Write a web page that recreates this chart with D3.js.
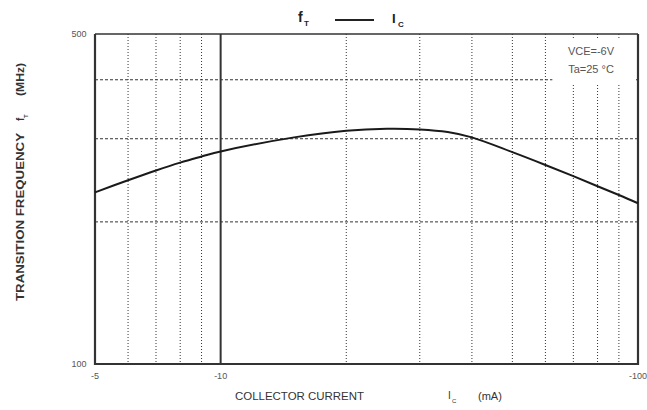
<!DOCTYPE html>
<html>
<head>
<meta charset="utf-8">
<script src="https://cdn.jsdelivr.net/npm/d3@7"></script>
<style>
  body { margin: 0; background: #fff; }
  svg { display: block; font-family: "Liberation Sans", Arial, sans-serif; }
</style>
</head>
<body>
<div id="chart"></div>
<script>
// collector current (mA) and transition frequency (MHz)
var current = [-5, -6, -7, -8, -9, -10, -15, -20, -25, -30, -35, -40, -50, -60, -70, -80, -90, -100]
var freq = [231, 245, 257, 267, 275, 282, 302, 312, 315, 314, 310, 302, 281, 264, 250, 238, 228, 219]

var xGrid = [-6, -7, -8, -9, -20, -30, -40, -50, -60, -70, -80, -90]
var xMajor = [-10]
var xTickLabels = [-5, -10, -100]
var yGrid = [200, 300, 400]
var yTickLabels = [100, 500]
var notes = ["VCE=-6V", "Ta=25 \u00b0C"]

var width = 647, height = 410
var margin = { top: 34, right: 9, bottom: 46, left: 95 }

var svg = d3.select("#chart").append("svg")
  .attr("width", width)
  .attr("height", height)

var x = d3.scaleLog().domain([-5, -100]).range([margin.left, width - margin.right])
var y = d3.scaleLog().domain([100, 500]).range([height - margin.bottom, margin.top])

// grid
svg.append("g").selectAll("line")
  .data(yGrid)
  .enter().append("line")
  .attr("x1", x(-5)).attr("x2", x(-100))
  .attr("y1", d => y(d)).attr("y2", d => y(d))
  .attr("stroke", "#333")
  .attr("stroke-width", 1)
  .attr("stroke-dasharray", "3,2")

svg.append("g").selectAll("line")
  .data(xGrid)
  .enter().append("line")
  .attr("x1", d => x(d)).attr("x2", d => x(d))
  .attr("y1", y(500)).attr("y2", y(100))
  .attr("stroke", "#333")
  .attr("stroke-width", 1)
  .attr("stroke-dasharray", "1,2")

// white box behind the conditions text
svg.append("rect")
  .attr("x", x(-62) + 1)
  .attr("y", y(500) + 4)
  .attr("width", x(-100) - x(-62) - 3)
  .attr("height", y(400) - y(500))
  .attr("fill", "#fff")

svg.append("g").selectAll("line")
  .data(xMajor)
  .enter().append("line")
  .attr("x1", d => x(d)).attr("x2", d => x(d))
  .attr("y1", y(500)).attr("y2", y(100))
  .attr("stroke", "#333")
  .attr("stroke-width", 2)

// frame
svg.append("line")
  .attr("x1", x(-5)).attr("x2", x(-100))
  .attr("y1", y(500)).attr("y2", y(500))
  .attr("stroke", "#333").attr("stroke-width", 1.5)
svg.append("path")
  .attr("d", "M" + x(-5) + "," + y(500) + "V" + y(100) + "H" + x(-100) + "V" + y(500))
  .attr("fill", "none")
  .attr("stroke", "#333")
  .attr("stroke-width", 2.2)

// curve
var line = d3.line()
  .x((d, i) => x(current[i]))
  .y(d => y(d))
  .curve(d3.curveCatmullRom)

svg.append("path")
  .datum(freq)
  .attr("d", line)
  .attr("fill", "none")
  .attr("stroke", "#1a1a1a")
  .attr("stroke-width", 2)

// tick labels
svg.append("g").selectAll("text")
  .data(xTickLabels)
  .enter().append("text")
  .attr("x", d => x(d))
  .attr("y", y(100) + 15)
  .attr("text-anchor", "middle")
  .attr("font-size", 9)
  .attr("fill", "#555")
  .text(d => d)

svg.append("g").selectAll("text")
  .data(yTickLabels)
  .enter().append("text")
  .attr("x", x(-5) - 16)
  .attr("y", d => y(d) + 3)
  .attr("text-anchor", "middle")
  .attr("font-size", 9)
  .attr("fill", "#555")
  .text(d => d)

// conditions
svg.append("g").selectAll("text")
  .data(notes)
  .enter().append("text")
  .attr("x", 591)
  .attr("y", (d, i) => 55 + i * 18)
  .attr("text-anchor", "middle")
  .attr("font-size", 11)
  .attr("fill", "#555")
  .text(d => d)

// title  fT —— IC
var title = svg.append("g").attr("fill", "#222").attr("font-weight", "bold")
title.append("text").attr("x", 298).attr("y", 22).attr("font-size", 14).text("f")
title.append("text").attr("x", 304).attr("y", 26).attr("font-size", 8).text("T")
svg.append("line")
  .attr("x1", 335).attr("x2", 374)
  .attr("y1", 20).attr("y2", 20)
  .attr("stroke", "#222").attr("stroke-width", 2)
title.append("text").attr("x", 392).attr("y", 23).attr("font-size", 13).text("I")
title.append("text").attr("x", 398).attr("y", 27).attr("font-size", 8).text("C")

// x axis label
var xl = svg.append("g").attr("fill", "#333").attr("font-size", 10)
xl.append("text").attr("x", 235).attr("y", 400)
  .attr("textLength", 129).attr("lengthAdjust", "spacingAndGlyphs")
  .text("COLLECTOR CURRENT")
xl.append("text").attr("x", 448).attr("y", 399).text("I")
xl.append("text").attr("x", 452).attr("y", 403).attr("font-size", 6).text("C")
xl.append("text").attr("x", 478).attr("y", 400).attr("font-size", 11)
  .text("(mA)")

// y axis label
var yl = svg.append("g")
  .attr("transform", "translate(24,0) rotate(-90)")
  .attr("fill", "#333").attr("font-weight", "bold").attr("font-size", 10)
yl.append("text").attr("x", -301).attr("y", 0)
  .attr("textLength", 168).attr("lengthAdjust", "spacingAndGlyphs")
  .text("TRANSITION FREQUENCY")
yl.append("text").attr("x", -121).attr("y", 0).text("f")
yl.append("text").attr("x", -118).attr("y", 4).attr("font-size", 6).text("T")
yl.append("text").attr("x", -96).attr("y", 0)
  .attr("textLength", 33).attr("lengthAdjust", "spacingAndGlyphs")
  .text("(MHz)")
</script>
</body>
</html>
